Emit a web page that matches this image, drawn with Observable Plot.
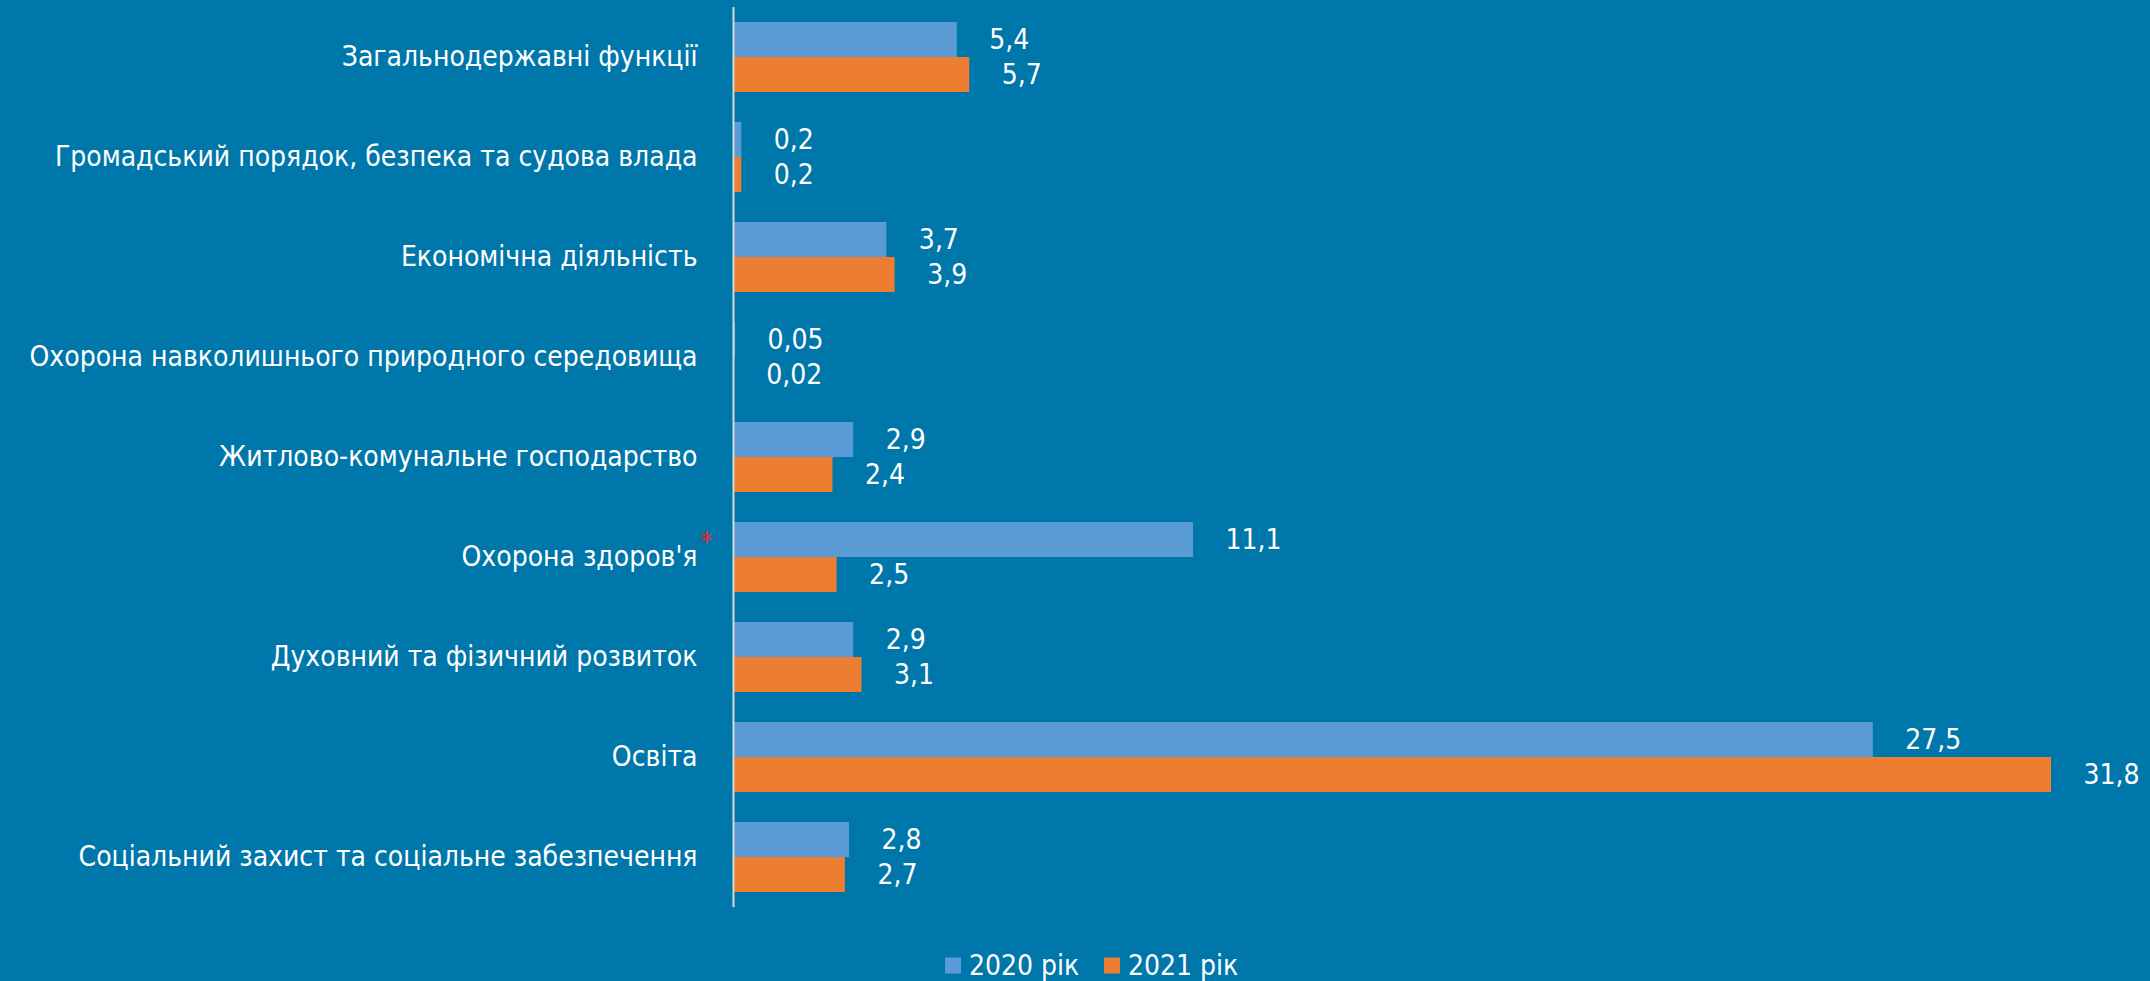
<!DOCTYPE html>
<html>
<head>
<meta charset="utf-8">
<script src="https://cdn.jsdelivr.net/npm/d3@7"></script>
<script src="https://cdn.jsdelivr.net/npm/@observablehq/plot@0.6"></script>
<style>
  html, body { margin: 0; padding: 0; background: #0077AA; }
  body { width: 2150px; height: 981px; overflow: hidden; font-family: "DejaVu Sans Condensed", "DejaVu Sans", sans-serif; font-stretch: condensed; }
  #legend { height: 51px; position: relative; color: #fff; font-size: 28px; }
  .item { position: absolute; top: 35px; transform: translateY(-50%); display: flex; align-items: center; white-space: nowrap; }
  .sw { width: 16px; height: 16px; margin-right: 8px; }
</style>
</head>
<body>
<div id="chart"></div>
<div id="legend"></div>
<script>
const categories = [
  "Загальнодержавні функції",
  "Громадський порядок, безпека та судова влада",
  "Економічна діяльність",
  "Охорона навколишнього природного середовища",
  "Житлово-комунальне господарство",
  "Охорона здоров'я",
  "Духовний та фізичний розвиток",
  "Освіта",
  "Соціальний захист та соціальне забезпечення"
];
const series = ["2020 рік", "2021 рік"];
const values2020 = [5.4, 0.2, 3.7, 0.05, 2.9, 11.1, 2.9, 27.5, 2.8];
const values2021 = [5.7, 0.2, 3.9, 0.02, 2.4, 2.5, 3.1, 31.8, 2.7];
const colors = ["#5B9BD5", "#ED7D31"];
const starred = ["Охорона здоров'я"];

const data = [];
categories.forEach((c, i) => {
  data.push({cat: c, year: series[0], value: values2020[i]});
  data.push({cat: c, year: series[1], value: values2021[i]});
});
const fmt = v => String(v).replace(".", ",");
const FONT = '"DejaVu Sans Condensed", "DejaVu Sans", sans-serif';

const chart = Plot.plot({
  width: 2150,
  height: 930,
  marginLeft: 733,
  marginRight: 0,
  marginTop: 7,
  marginBottom: 23,
  style: {background: "#0077AA", color: "#fff", fontFamily: FONT, fontSize: "28px", overflow: "visible"},
  x: {domain: [0, 31.8], range: [733, 2051], axis: null},
  y: {domain: series, paddingInner: 0, paddingOuter: 0.389, axis: null},
  fy: {domain: categories, padding: 0, label: null, axis: "left", tickSize: 0, tickPadding: 36},
  color: {domain: series, range: colors},
  marks: [
    Plot.barX(data, {fy: "cat", y: "year", x: "value", fill: "year", insetTop: 0, insetBottom: 0}),
    Plot.ruleX([0], {stroke: "#D9D9D9", strokeWidth: 2}),
    Plot.text(data, {fy: "cat", y: "year", x: "value", text: d => fmt(d.value), textAnchor: "start", dx: 32, fill: "#fff", fontSize: 28}),
    Plot.text(starred, {fy: d => d, frameAnchor: "left", text: () => "*", dx: -33, dy: -15, fill: "#FF1A1A", fontSize: 26})
  ]
});
document.getElementById("chart").appendChild(chart);

const legend = document.getElementById("legend");
const lx = [945, 1104];
series.forEach((s, i) => {
  const it = document.createElement("div");
  it.className = "item";
  it.style.left = lx[i] + "px";
  const sw = document.createElement("span");
  sw.className = "sw";
  sw.style.background = colors[i];
  const t = document.createElement("span");
  t.textContent = s;
  it.appendChild(sw); it.appendChild(t);
  legend.appendChild(it);
});
</script>
</body>
</html>
